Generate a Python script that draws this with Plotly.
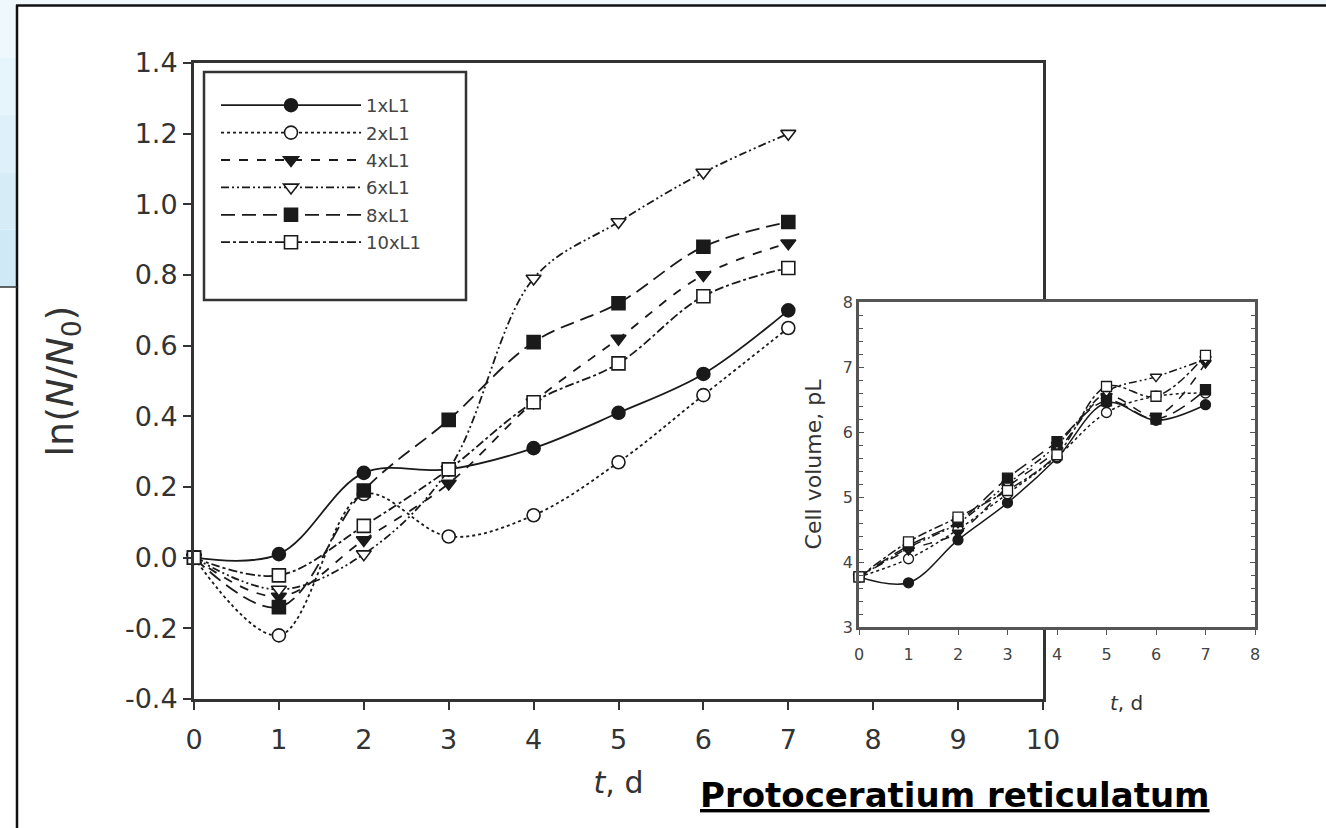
import plotly.graph_objects as go

# ---------------- data ----------------
t_days = [0, 1, 2, 3, 4, 5, 6, 7]
series_names = ["1xL1", "2xL1", "4xL1", "6xL1", "8xL1", "10xL1"]

# main panel: ln(N/N0)
ln_1x = [0.00, 0.01, 0.24, 0.25, 0.31, 0.41, 0.52, 0.70]
ln_2x = [0.00, -0.22, 0.18, 0.06, 0.12, 0.27, 0.46, 0.65]
ln_4x = [0.00, -0.11, 0.05, 0.21, 0.44, 0.62, 0.80, 0.89]
ln_6x = [0.00, -0.09, 0.01, 0.25, 0.79, 0.95, 1.09, 1.20]
ln_8x = [0.00, -0.14, 0.19, 0.39, 0.61, 0.72, 0.88, 0.95]
ln_10x = [0.00, -0.05, 0.09, 0.25, 0.44, 0.55, 0.74, 0.82]

# inset: cell volume, pL
vol_1x = [3.77, 3.68, 4.34, 4.91, 5.60, 6.45, 6.18, 6.42]
vol_2x = [3.77, 4.05, 4.50, 5.05, 5.62, 6.30, 6.55, 6.60]
vol_4x = [3.77, 4.18, 4.45, 5.15, 5.72, 6.55, 6.25, 7.06]
vol_6x = [3.77, 4.22, 4.60, 5.20, 5.80, 6.62, 6.85, 7.12]
vol_8x = [3.77, 4.25, 4.62, 5.29, 5.85, 6.48, 6.20, 6.65]
vol_10x = [3.77, 4.31, 4.69, 5.10, 5.65, 6.70, 6.55, 7.18]

main_y_ticks = [-0.4, -0.2, 0.0, 0.2, 0.4, 0.6, 0.8, 1.0, 1.2, 1.4]
main_y_labels = ["-0.4", "-0.2", "0.0", "0.2", "0.4", "0.6", "0.8", "1.0", "1.2", "1.4"]
main_x_ticks = [0, 1, 2, 3, 4, 5, 6, 7, 8, 9, 10]
inset_x_ticks = [0, 1, 2, 3, 4, 5, 6, 7, 8]
inset_y_ticks = [3, 4, 5, 6, 7, 8]

ln_series = [ln_1x, ln_2x, ln_4x, ln_6x, ln_8x, ln_10x]
vol_series = [vol_1x, vol_2x, vol_4x, vol_6x, vol_8x, vol_10x]

# ---------------- styles ----------------
INK = "#1a1a1a"
dashes = ["solid", "dot", "dash", "8px,3px,2px,3px,2px,3px", "14px,7px", "dashdot"]
symbols = ["circle", "circle", "triangle-down", "triangle-down", "square", "square"]
filled = [True, False, True, False, True, False]

W, H = 1326, 828


def px_x(v):
    return v / W


def px_y(v):
    return 1 - v / H


fig = go.Figure()

for name, ys, dsh, sym, fil in zip(series_names, ln_series, dashes, symbols, filled):
    fig.add_trace(go.Scatter(
        x=t_days, y=ys, name=name, legendgroup=name, mode="lines+markers",
        line=dict(color=INK, width=1.8, dash=dsh, shape="spline"),
        marker=dict(symbol=sym, size=13, color=INK if fil else "white",
                    line=dict(color=INK, width=1.6)),
        cliponaxis=False, xaxis="x", yaxis="y",
    ))

for name, ys, dsh, sym, fil in zip(series_names, vol_series, dashes, symbols, filled):
    fig.add_trace(go.Scatter(
        x=t_days, y=ys, name=name, legendgroup=name, mode="lines+markers", showlegend=False,
        line=dict(color=INK, width=1.5, dash=dsh, shape="spline"),
        marker=dict(symbol=sym, size=10, color=INK if fil else "white",
                    line=dict(color=INK, width=1.3)),
        cliponaxis=False, xaxis="x2", yaxis="y2",
    ))

FAM = "DejaVu Sans, Arial, sans-serif"
TICKFONT = dict(family=FAM, size=27, color="#333333")
SMALLFONT = dict(family=FAM, size=16, color="#444444")

fig.update_layout(
    width=W, height=H,
    margin=dict(l=0, r=0, t=0, b=0, autoexpand=False),
    paper_bgcolor="white", plot_bgcolor="white",
    font=dict(family=FAM, color="#333333"),
    xaxis=dict(
        domain=[px_x(194), px_x(1043)], range=[0, 10], automargin=False,
        tickvals=main_x_ticks, ticks="outside", ticklen=8, tickwidth=1.5, tickcolor="#333",
        ticklabelstandoff=7,
        showline=True, linewidth=3, linecolor="#333", mirror=True,
        showgrid=False, zeroline=False, tickfont=TICKFONT,
        title=dict(text="<i>t</i>, d", font=dict(family=FAM, size=30, color="#333"), standoff=18),
    ),
    yaxis=dict(
        domain=[px_y(699), px_y(63)], range=[-0.4, 1.4], automargin=False,
        tickvals=main_y_ticks, ticktext=main_y_labels,
        ticks="outside", ticklen=8, tickwidth=1.5, tickcolor="#333",
        showline=True, linewidth=3, linecolor="#333", mirror=True,
        showgrid=False, zeroline=False, tickfont=TICKFONT,
        title=dict(text="ln(<i>N</i>/<i>N</i><sub>0</sub>)",
                   font=dict(family=FAM, size=38, color="#333"), standoff=40),
    ),
    xaxis2=dict(
        domain=[px_x(859), px_x(1255)], range=[0, 8], anchor="y2", automargin=False,
        tickvals=inset_x_ticks, ticks="outside", ticklen=5, tickwidth=1.2, tickcolor="#555",
        ticklabelstandoff=6,
        showline=True, linewidth=2.5, linecolor="#555", mirror=True,
        showgrid=False, zeroline=False, tickfont=SMALLFONT,
    ),
    yaxis2=dict(
        domain=[px_y(627), px_y(302)], range=[3, 8], anchor="x2", automargin=False,
        tickvals=inset_y_ticks, ticks="inside", ticklen=5, tickwidth=1.2, tickcolor="#555",
        minor=dict(dtick=0.2, ticks="inside", ticklen=4, tickwidth=1, tickcolor="#555"),
        showline=True, linewidth=2.5, linecolor="#555", mirror="ticks",
        showgrid=False, zeroline=False, tickfont=SMALLFONT,
        title=dict(text="Cell volume, pL", font=dict(family=FAM, size=22, color="#333"),
                   standoff=16),
    ),
    legend=dict(
        x=px_x(216), y=px_y(87), xanchor="left", yanchor="top",
        bgcolor="rgba(0,0,0,0)", borderwidth=0,
        font=dict(family=FAM, size=18, color="#444"),
        itemwidth=140, tracegroupgap=1,
    ),
    showlegend=True,
)

shapes = []
# slide decoration: light blue gradient strips
blue_steps = ["#eef8fd", "#e6f4fc", "#def1fa", "#d6edf8", "#cfe9f6"]
seg = 287 / len(blue_steps)
for i, c in enumerate(blue_steps):
    shapes.append(dict(type="rect", xref="paper", yref="paper",
                       x0=0, x1=px_x(17), y0=px_y(seg * (i + 1)), y1=px_y(seg * i),
                       fillcolor=c, line=dict(width=0), layer="below"))
shapes.append(dict(type="rect", xref="paper", yref="paper", x0=0, x1=1, y0=px_y(5), y1=1,
                   fillcolor="#eef8fd", line=dict(width=0), layer="below"))
shapes.append(dict(type="line", xref="paper", yref="paper", x0=px_x(17), x1=px_x(17),
                   y0=0, y1=px_y(5), line=dict(color="#111", width=2.5)))
shapes.append(dict(type="line", xref="paper", yref="paper", x0=px_x(16), x1=1,
                   y0=px_y(5.5), y1=px_y(5.5), line=dict(color="#111", width=2.5)))
shapes.append(dict(type="line", xref="paper", yref="paper", x0=0, x1=px_x(17),
                   y0=px_y(287), y1=px_y(287), line=dict(color="#333", width=1.5)))
# legend frame
shapes.append(dict(type="rect", xref="paper", yref="paper",
                   x0=px_x(204), x1=px_x(466), y0=px_y(300), y1=px_y(72),
                   fillcolor="white", line=dict(color="#333", width=2.5), layer="below"))
# white backing for the inset plot area (covers main frame behind it)
shapes.append(dict(type="rect", xref="x2 domain", yref="y2 domain", x0=0, x1=1, y0=0, y1=1,
                   fillcolor="white", line=dict(width=0), layer="below"))
fig.update_layout(shapes=shapes)

fig.add_annotation(text="<i>t</i>, d", x=px_x(1126), y=px_y(703), xref="paper", yref="paper",
                   xanchor="center", yanchor="middle",
                   showarrow=False, font=dict(family=FAM, size=20, color="#333"))
fig.add_annotation(text="<b><u>Protoceratium reticulatum</u></b>", x=px_x(955), y=px_y(795),
                   xref="paper", yref="paper", xanchor="center", yanchor="middle",
                   showarrow=False, font=dict(family=FAM, size=34, color="black"))

fig.write_html(
    "out.html",
    config={"displayModeBar": False},
    post_script="document.documentElement.style.margin='0';"
                "document.body.style.margin='0';document.body.style.overflow='hidden';",
)
